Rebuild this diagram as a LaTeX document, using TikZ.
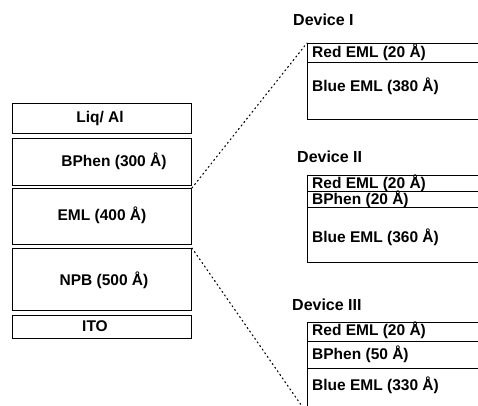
\documentclass[tikz,border=0pt]{standalone}
\usepackage{fontspec}
\setmainfont{Liberation Sans}
\begin{document}
\begin{tikzpicture}[x=1pt,y=-1pt,
  layer/.style={draw=black,line width=0.9pt,rectangle,inner sep=0pt,anchor=north west},
  txt/.style={inner sep=0pt,font=\fontsize{15.5}{17}\selectfont\bfseries},
  btxt/.style={inner sep=0pt,font=\fontsize{15.5}{17}\selectfont\bfseries},
  dev/.style={inner sep=0pt,anchor=west,font=\fontsize{16}{18}\selectfont\bfseries},
  zoomline/.style={line width=1.1pt,dash pattern=on 1.2pt off 3.2pt,line cap=round}]
\useasboundingbox (0,0) rectangle (478,405);
\clip (0,0) rectangle (478,405);
% left stack
\node[layer,minimum width=179pt,minimum height=30pt] (liq) at (12,103) {};
\node[layer,minimum width=179pt,minimum height=47pt] (bphen) at (12,138) {};
\node[layer,minimum width=179pt,minimum height=56pt] (eml) at (12,188) {};
\node[layer,minimum width=179pt,minimum height=62pt] (npb) at (12,248) {};
\node[layer,minimum width=179pt,minimum height=23pt] (ito) at (12,315) {};
\node[txt] (tliq) at (100,118) {Liq/ Al};
\node[txt] (tbphen) at (114,161) {BPhen (300 Å)};
\node[txt] (teml) at (102,215) {EML (400 Å)};
\node[txt] (tnpb) at (104,280) {NPB (500 Å)};
\node[txt] (tito) at (95,326) {ITO};
% Device I
\node[dev] (d1) at (293,20) {Device I};
\node[layer,minimum width=185pt,minimum height=19pt] (r1) at (307,43) {};
\node[layer,minimum width=185pt,minimum height=57pt] (b1) at (307,62) {};
\node[btxt,anchor=west] (tr1) at (312,52) {Red EML (20 Å)};
\node[txt,anchor=west] (tb1) at (312,86) {Blue EML (380 Å)};
% Device II
\node[dev] (d2) at (297,157) {Device II};
\node[layer,minimum width=185pt,minimum height=16pt] (r2) at (307,175) {};
\node[layer,minimum width=185pt,minimum height=16pt] (p2) at (307,191) {};
\node[layer,minimum width=185pt,minimum height=55pt] (b2) at (307,207) {};
\node[btxt,anchor=west] (tr2) at (312,183) {Red EML (20 Å)};
\node[txt,anchor=west] (tp2) at (312,199) {BPhen (20 Å)};
\node[txt,anchor=west] (tb2) at (312,237) {Blue EML (360 Å)};
% Device III
\node[dev] (d3) at (292,305) {Device III};
\node[layer,minimum width=185pt,minimum height=19pt] (r3) at (307,322) {};
\node[layer,minimum width=185pt,minimum height=27pt] (p3) at (307,341) {};
\node[layer,minimum width=185pt,minimum height=50pt] (b3) at (307,368) {};
\node[btxt,anchor=west] (tr3) at (312,330) {Red EML (20 Å)};
\node[txt,anchor=west] (tp3) at (312,354) {BPhen (50 Å)};
\node[txt,anchor=west] (tb3) at (312,385) {Blue EML (330 Å)};
% zoom lines
\coordinate (zend) at (306,412);
\draw[zoomline] (eml.north east) -- (r1.north west);
\draw[zoomline] (npb.north east) -- (zend);
\end{tikzpicture}
\end{document}
